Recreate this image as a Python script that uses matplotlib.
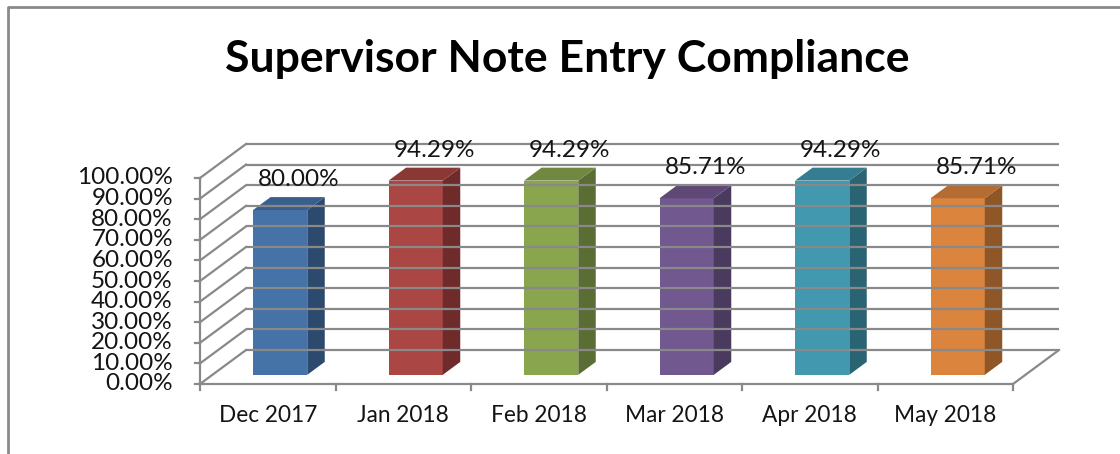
import matplotlib.pyplot as plt
from matplotlib.lines import Line2D
from matplotlib.patches import Polygon

plt.rcParams["font.family"] = ["Lato", "DejaVu Sans"]

# data
months = ["Dec 2017", "Jan 2018", "Feb 2018", "Mar 2018", "Apr 2018", "May 2018"]
compliance = [80.00, 94.29, 94.29, 85.71, 94.29, 85.71]
y_ticks = [0, 10, 20, 30, 40, 50, 60, 70, 80, 90, 100]
title = "Supervisor Note Entry Compliance"

# colours per bar: front, side, top
front_cols = ["#4572a7", "#aa4643", "#89a54e", "#71588f", "#4198af", "#db843d"]
side_cols = ["#2c4a6e", "#6e2b2a", "#5a6d33", "#4a3a5e", "#2a6473", "#8f5628"]
top_cols = ["#3a5f8c", "#8a3836", "#708840", "#5d4876", "#357d90", "#b46c32"]
grid_col = "#898989"
text_col = "#141414"

# layout (pixel mapping of the front plane)
W, H = 1120, 454
X0, Y0 = 200, 384          # pixel of (-0.5, 0%)
PX_CAT, PX_PCT = 135.5, 2.06
DX, DY = 46 / PX_CAT, 34 / PX_PCT   # full depth offset in data units
D0, D1 = 0.27, 0.65                 # bar depth range
BAR_W = 0.4

fig = plt.figure(figsize=(W / 100, H / 100), dpi=100)
ax = fig.add_axes([0, 0, 1, 1])
ax.set_xlim(-0.5 - X0 / PX_CAT, -0.5 + (W - X0) / PX_CAT)
ax.set_ylim((Y0 - H) / PX_PCT, Y0 / PX_PCT)
ax.axis("off")

n = len(months)
xl, xr = -0.5, n - 0.5

# back wall gridlines and left side wall
for v in y_ticks:
    ax.plot([xl + DX, xr + DX], [v + DY, v + DY], color=grid_col, lw=1.6,
            solid_capstyle="butt")
    ax.plot([xl, xl + DX], [v, v + DY], color=grid_col, lw=1.6)
    ax.plot([xl - 0.04, xl], [v, v], color=grid_col, lw=1.6)
    ax.text(xl - 0.2, v, f"{v:.2f}%", ha="right", va="center", fontsize=17.5,
            color=text_col)

# front axis + floor
ax.plot([xl, xl], [0, 100], color=grid_col, lw=1.6)
ax.plot([xl, xr], [0, 0], color=grid_col, lw=1.6)
ax.plot([xr, xr + DX], [0, DY], color=grid_col, lw=1.6)
for k in range(n + 1):
    ax.plot([k - 0.5, k - 0.5], [0, -3], color=grid_col, lw=1.6)

# bars
for i, (v, fc, sc, tc) in enumerate(zip(compliance, front_cols, side_cols, top_cols)):
    x0 = i - BAR_W / 2 + D0 * DX
    x1 = x0 + BAR_W
    yb = D0 * DY
    ddx, ddy = (D1 - D0) * DX, (D1 - D0) * DY
    ax.add_patch(Polygon([(x0, yb), (x1, yb), (x1, yb + v), (x0, yb + v)],
                         closed=True, fc=fc, ec="none"))
    ax.add_patch(Polygon([(x1, yb), (x1 + ddx, yb + ddy), (x1 + ddx, yb + v + ddy),
                          (x1, yb + v)], closed=True, fc=sc, ec="none"))
    ax.add_patch(Polygon([(x0, yb + v), (x1, yb + v), (x1 + ddx, yb + v + ddy),
                          (x0 + ddx, yb + v + ddy)], closed=True, fc=tc, ec="none"))
    ax.text(i + 0.23, v + 19.3, f"{v:.2f}%", ha="center", va="center",
            fontsize=17.5, color=text_col)
    ax.text(i, -15.5, months[i], ha="center", va="center", fontsize=16.3,
            color=text_col)

fig.text(567 / W, 1 - 59 / H, title, ha="center", va="center", fontsize=32,
         fontweight="bold", color="black")

# chart border (top and left)
fig.add_artist(Line2D([8 / W, 8 / W, 1], [0, 1 - 7 / H, 1 - 7 / H],
                      transform=fig.transFigure, color="#8a8a8a", lw=2))

fig.savefig("out.png", dpi=100)
